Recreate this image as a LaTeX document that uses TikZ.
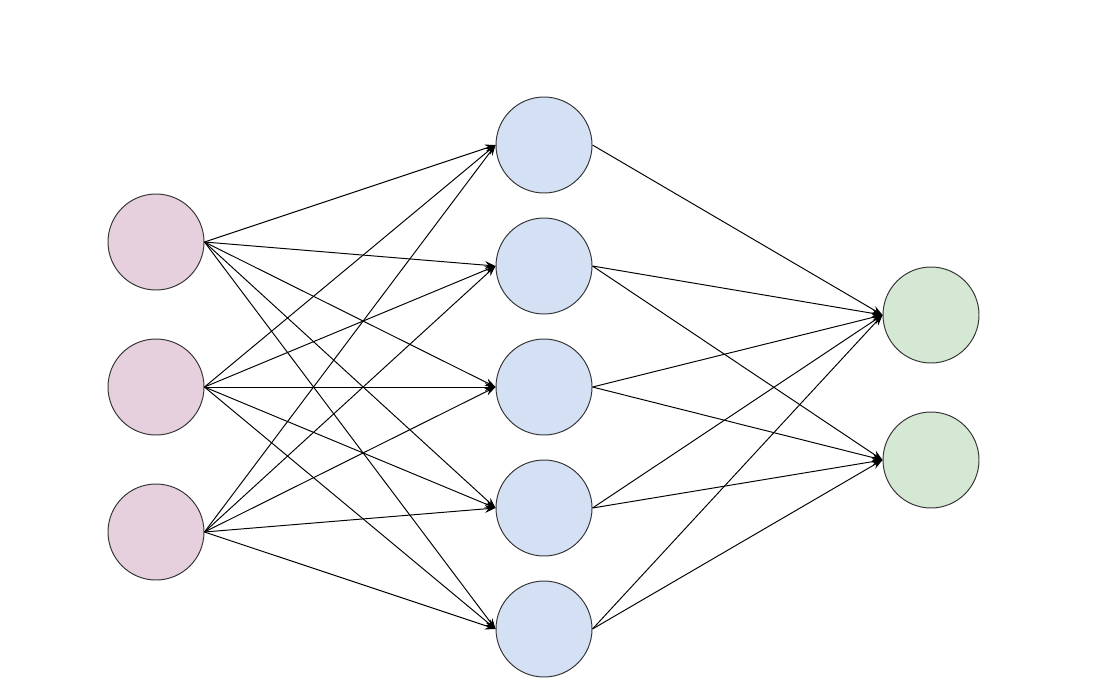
\documentclass[tikz,border=0pt]{standalone}
\usepackage{tikz}
\usepackage{xcolor}
\usetikzlibrary{
    arrows.meta,
    positioning
}
\definecolor{inpink}{HTML}{E6D0DE}
\definecolor{hidblue}{HTML}{D4E1F5}
\definecolor{outgreen}{HTML}{D5E8D4}
\begin{document}
\begin{tikzpicture}[>={Stealth[length=6pt, width=4.5pt, inset=2pt]}, line width=0.55pt]
                        \useasboundingbox (0, 0) rectangle (22, 13.64);
                        \node[minimum size=1.92cm, inner sep=0pt, circle, draw=black!80, fill=inpink] (i1) at (3.12, 8.8) {};
                        \node[minimum size=1.92cm, inner sep=0pt, circle, draw=black!80, fill=inpink] (i2) at (3.12, 5.9) {};
                        \node[minimum size=1.92cm, inner sep=0pt, circle, draw=black!80, fill=inpink] (i3) at (3.12, 3.0) {};
                        \node[minimum size=1.92cm, inner sep=0pt, circle, draw=black!80, fill=hidblue] (h1) at (10.88, 10.74) {};
                        \node[minimum size=1.92cm, inner sep=0pt, circle, draw=black!80, fill=hidblue] (h2) at (10.88, 8.32) {};
                        \node[minimum size=1.92cm, inner sep=0pt, circle, draw=black!80, fill=hidblue] (h3) at (10.88, 5.9) {};
                        \node[minimum size=1.92cm, inner sep=0pt, circle, draw=black!80, fill=hidblue] (h4) at (10.88, 3.48) {};
                        \node[minimum size=1.92cm, inner sep=0pt, circle, draw=black!80, fill=hidblue] (h5) at (10.88, 1.06) {};
                        \node[minimum size=1.92cm, inner sep=0pt, circle, draw=black!80, fill=outgreen] (o1) at (18.62, 7.34) {};
                        \node[minimum size=1.92cm, inner sep=0pt, circle, draw=black!80, fill=outgreen] (o2) at (18.62, 4.44) {};
                        \draw
                        (i1.east) edge[->] (h1.west) (i1.east) edge[->] (h2.west) (i1.east) edge[->] (h3.west) (i1.east) edge[->] (h4.west) (i1.east) edge[->] (h5.west)
                        (i2.east) edge[->] (h1.west) (i2.east) edge[->] (h2.west) (i2.east) edge[->] (h3.west) (i2.east) edge[->] (h4.west) (i2.east) edge[->] (h5.west)
                        (i3.east) edge[->] (h1.west) (i3.east) edge[->] (h2.west) (i3.east) edge[->] (h3.west) (i3.east) edge[->] (h4.west) (i3.east) edge[->] (h5.west)
                        (h1.east) edge[->] (o1.west)
                        (h2.east) edge[->] (o1.west) (h2.east) edge[->] (o2.west)
                        (h3.east) edge[->] (o1.west) (h3.east) edge[->] (o2.west)
                        (h4.east) edge[->] (o1.west) (h4.east) edge[->] (o2.west)
                        (h5.east) edge[->] (o1.west) (h5.east) edge[->] (o2.west);
                    \end{tikzpicture}
\end{document}
